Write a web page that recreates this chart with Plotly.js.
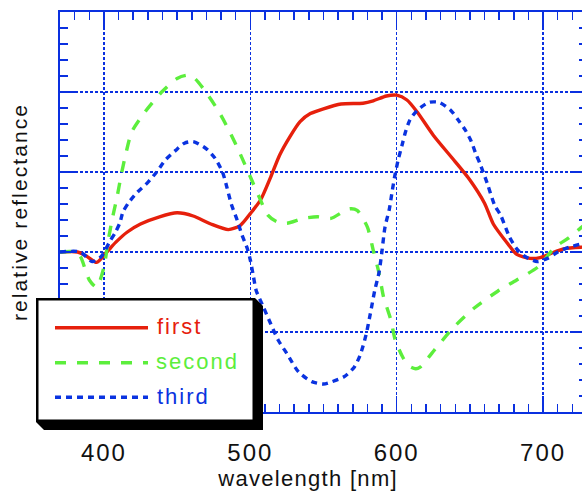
<!DOCTYPE html>
<html>
<head>
<meta charset="utf-8">
<script src="https://cdn.plot.ly/plotly-3.0.1.min.js"></script>
<style>
  html, body { margin: 0; padding: 0; overflow: hidden; background: #fff; }
  #chart { width: 600px; height: 491px; }
  .xtick text { letter-spacing: 2px; }
  .ytitle { letter-spacing: 2.1px; }
  .annotation text { letter-spacing: 2px; }
  .annotation[data-index="0"] text { letter-spacing: 1.3px; }
</style>
</head>
<body>
<div id="chart"></div>
<script>
// ---- data ----
const seriesNames = ["first", "second", "third"];

const firstX = [370, 382, 388, 395, 402, 408, 416, 425, 438, 450, 461, 473, 485, 493, 500, 507, 514, 520, 527, 534, 541, 550, 562, 577, 584, 593, 600, 607, 614, 625, 639, 650, 660, 666, 676, 682, 691, 698, 705, 714, 726, 730];
const firstY = [0, 0, -0.05, -0.13, 0, 0.12, 0.25, 0.35, 0.44, 0.49, 0.45, 0.35, 0.28, 0.33, 0.48, 0.65, 0.94, 1.21, 1.44, 1.63, 1.73, 1.79, 1.85, 1.86, 1.89, 1.95, 1.96, 1.90, 1.75, 1.46, 1.15, 0.90, 0.61, 0.35, 0.10, -0.03, -0.08, -0.07, -0.02, 0.04, 0.06, 0.06];

const secondX = [370, 380, 384, 390, 395, 400, 403, 406, 409, 412, 415, 419, 428, 440, 450, 457, 462, 468, 478, 486, 493, 500, 506, 512, 518, 525, 536, 546, 555, 563, 568, 573, 580, 584, 588, 591, 596, 599, 604, 608, 613, 616, 626, 639, 653, 669, 682, 697, 708, 717, 725, 730];
const secondY = [0, 0, -0.06, -0.35, -0.44, -0.19, 0.15, 0.44, 0.69, 0.98, 1.23, 1.50, 1.75, 2.01, 2.17, 2.21, 2.17, 2.04, 1.77, 1.50, 1.23, 0.94, 0.69, 0.46, 0.38, 0.36, 0.42, 0.44, 0.42, 0.50, 0.54, 0.52, 0.31, 0.02, -0.27, -0.56, -0.85, -1.10, -1.31, -1.42, -1.46, -1.44, -1.22, -0.94, -0.70, -0.49, -0.35, -0.18, 0.06, 0.17, 0.29, 0.36];

const thirdX = [370, 384, 392, 398, 404, 408, 411, 413, 417, 423, 430, 436, 442, 449, 455, 461, 470, 476, 481, 484, 487, 491, 494, 498, 500, 502, 504, 509, 514, 519, 525, 533, 542, 550, 556, 564, 571, 575, 579, 582, 585, 588, 590, 592, 595, 597, 599, 601, 604, 606, 609, 614, 622, 629, 637, 642, 647, 651, 654, 657, 662, 667, 671, 677, 682, 688, 696, 703, 710, 718, 726, 730];
const thirdY = [0, 0, -0.12, -0.06, 0.13, 0.25, 0.37, 0.50, 0.62, 0.75, 0.87, 1.00, 1.15, 1.27, 1.36, 1.38, 1.29, 1.17, 1.00, 0.81, 0.60, 0.40, 0.23, 0.04, -0.10, -0.29, -0.48, -0.69, -0.90, -1.10, -1.27, -1.50, -1.62, -1.65, -1.62, -1.56, -1.44, -1.29, -1.04, -0.77, -0.48, -0.25, 0.02, 0.31, 0.54, 0.77, 0.98, 1.15, 1.36, 1.50, 1.65, 1.77, 1.87, 1.87, 1.77, 1.65, 1.52, 1.38, 1.23, 1.10, 0.85, 0.58, 0.46, 0.19, 0.04, -0.06, -0.12, -0.08, 0, 0.06, 0.10, 0.11];

const xTickVals = [400, 500, 600, 700];
const xTickText = ["400", "500", "600", "700"];
const xTitle = "wavelength [nm]";
const yTitle = "relative reflectance";

// ---- styling ----
const RED = "#e6200c", GREEN = "#5cee3c", BLUE = "#0a33e0", AX = "#0a30e0";
const COLORS = [RED, GREEN, BLUE];
const DASHES = ["solid", "11px,11px", "6px,5px"];
const FONT = "Liberation Sans, Arial, Helvetica, sans-serif";

// geometry helpers (pixels -> paper)
const L = 60, R = 13, T = 12, B = 79, WID = 600, HEI = 491;
const PW = WID - L - R, PH = HEI - T - B;
const px = p => (p - L) / PW;
const py = p => (HEI - B - p) / PH;

function line(i) {
  return { color: COLORS[i], width: 3.4, dash: DASHES[i], shape: "spline", smoothing: 0.7 };
}

const xs = [firstX, secondX, thirdX];
const ys = [firstY, secondY, thirdY];
const traces = seriesNames.map((n, i) => ({
  x: xs[i], y: ys[i], name: n, mode: "lines", line: line(i), showlegend: false
}));

// legend box (drawn as shapes + annotations, boxed with a drop shadow)
const box = { x0: 36, y0: 298, x1: 255, y1: 422 };
const rowY = [327.7, 362.7, 397.3];
const sh = [[box.x1, box.y0], [box.x1 + 8, box.y0 + 8], [box.x1 + 8, box.y1 + 8], [box.x0 + 8, box.y1 + 8], [box.x0, box.y1]];
const shadowPath = "M" + sh.map(p => px(p[0]) + "," + py(p[1])).join("L") + "Z";

const shapes = [
  { type: "path", xref: "paper", yref: "paper", path: shadowPath, fillcolor: "#000", line: { width: 0 }, layer: "above" },
  { type: "rect", xref: "paper", yref: "paper", x0: px(box.x0 + 1.25), x1: px(box.x1 - 1.25), y0: py(box.y1 - 1.25), y1: py(box.y0 + 1.25),
    fillcolor: "#fff", line: { color: "#000", width: 2.5 }, layer: "above" }
];
seriesNames.forEach((n, i) => {
  shapes.push({ type: "line", xref: "paper", yref: "paper", x0: px(55), x1: px(148), y0: py(rowY[i]), y1: py(rowY[i]),
    line: { color: COLORS[i], width: 3.4, dash: DASHES[i] }, layer: "above" });
});

const annotations = [
  { text: xTitle, xref: "paper", yref: "paper", x: px(307.5), y: py(478), xanchor: "center", yanchor: "middle",
    showarrow: false, font: { family: FONT, size: 22, color: "#111" } }
];
seriesNames.forEach((n, i) => {
  annotations.push({ text: n, xref: "paper", yref: "paper", x: px(160), y: py(rowY[i] - 1), xanchor: "left", yanchor: "middle",
    showarrow: false, font: { family: FONT, size: 22, color: COLORS[i] } });
});

const layout = {
  width: WID, height: HEI,
  margin: { l: L, r: R, t: T, b: B },
  paper_bgcolor: "#fff", plot_bgcolor: "#fff",
  font: { family: FONT, color: "#000" },
  showlegend: false,
  xaxis: {
    range: [370, 730], showline: true, linecolor: AX, linewidth: 2, mirror: "ticks",
    ticks: "inside", ticklen: 16, tickwidth: 1.5, tickcolor: AX,
    tickvals: xTickVals, ticktext: xTickText,
    tickfont: { family: FONT, size: 24, color: "#111" },
    ticklabelstandoff: 18,
    showgrid: true, gridcolor: AX, gridwidth: 1.5, griddash: "3px,2px",
    zeroline: false,
    minor: { dtick: 10, ticks: "inside", ticklen: 8, tickwidth: 1.5, tickcolor: AX, showgrid: false }
  },
  yaxis: {
    range: [-2, 3], showline: true, linecolor: AX, linewidth: 2, mirror: "ticks",
    ticks: "inside", ticklen: 16, tickwidth: 1.5, tickcolor: AX,
    dtick: 1, showticklabels: false,
    showgrid: true, gridcolor: AX, gridwidth: 2, griddash: "3px,2px",
    zeroline: false,
    minor: { dtick: 0.2, ticks: "inside", ticklen: 8, tickwidth: 1.5, tickcolor: AX, showgrid: false },
    title: { text: yTitle, font: { family: FONT, size: 21, color: "#111" }, standoff: 25 }
  },
  shapes: shapes,
  annotations: annotations
};

Plotly.newPlot("chart", traces, layout, { staticPlot: true, displayModeBar: false });
</script>
</body>
</html>
